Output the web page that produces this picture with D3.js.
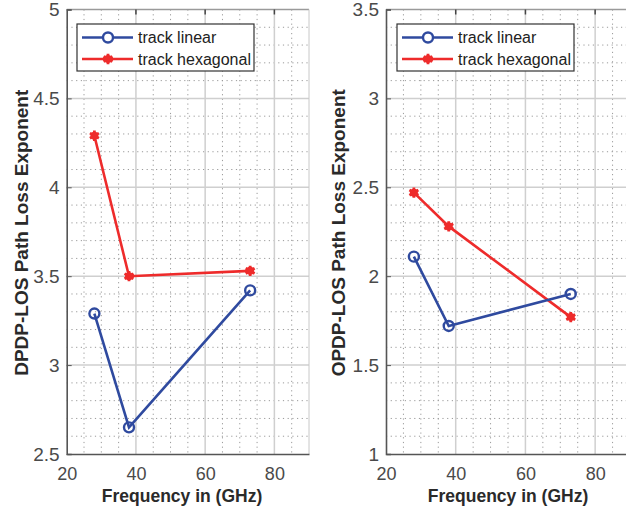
<!DOCTYPE html>
<html>
<head>
<meta charset="utf-8">
<script src="https://cdn.jsdelivr.net/npm/d3@7"></script>
<style>
  html, body { margin: 0; padding: 0; background: #fff; }
  svg { display: block; font-family: "Liberation Sans", Arial, sans-serif; }
</style>
</head>
<body>
<svg id="chart" width="626" height="517"></svg>
<script>
// Measurement frequencies (GHz)
const frequencies = [28, 38, 73];

// Path loss exponents, DPDP-LOS panel
const dpdpLinear = [3.29, 2.65, 3.42];
const dpdpHexagonal = [4.29, 3.50, 3.53];

// Path loss exponents, OPDP-LOS panel
const opdpLinear = [2.11, 1.72, 1.90];
const opdpHexagonal = [2.47, 2.28, 1.77];

// Axis ticks
const xTicks = [20, 40, 60, 80];
const dpdpTicks = [2.5, 3, 3.5, 4, 4.5, 5];
const opdpTicks = [1, 1.5, 2, 2.5, 3, 3.5];

const seriesNames = ["track linear", "track hexagonal"];
const BLUE = "#2f4a9f";
const RED = "#ee2b2b";

const svg = d3.select("#chart");

function panel(opts) {
  const { left, right, top, bottom, yDomain, yTicks, linear, hexagonal, yLabel, yLabelX, xLabelX, legendX, legendW } = opts;
  const x = d3.scaleLinear().domain([20, 90]).range([left, right]);
  const y = d3.scaleLinear().domain(yDomain).range([bottom, top]);
  const g = svg.append("g");

  // minor dotted grid
  const minorX = d3.range(25, 90, 5).filter(v => v % 20 !== 0);
  const minorY = d3.range(Math.round(yDomain[0] * 10) + 1, Math.round(yDomain[1] * 10)).map(v => v / 10)
    .filter(v => Math.abs(v * 2 - Math.round(v * 2)) > 1e-6);
  g.selectAll(".mx").data(minorX).join("line")
    .attr("x1", d => x(d)).attr("x2", d => x(d)).attr("y1", top).attr("y2", bottom)
    .attr("stroke", "#9a9a9a").attr("stroke-width", 1).attr("stroke-dasharray", "1.2,3.5");
  g.selectAll(".my").data(minorY).join("line")
    .attr("x1", left).attr("x2", right).attr("y1", d => y(d)).attr("y2", d => y(d))
    .attr("stroke", "#9a9a9a").attr("stroke-width", 1).attr("stroke-dasharray", "1.2,3.5");

  // major solid grid
  g.selectAll(".gx").data(xTicks.slice(1)).join("line")
    .attr("x1", d => x(d)).attr("x2", d => x(d)).attr("y1", top).attr("y2", bottom)
    .attr("stroke", "#cfcfcf").attr("stroke-width", 1.5);
  g.selectAll(".gy").data(yTicks.slice(1, -1)).join("line")
    .attr("x1", left).attr("x2", right).attr("y1", d => y(d)).attr("y2", d => y(d))
    .attr("stroke", "#cfcfcf").attr("stroke-width", 1.5);

  // axes frame
  g.append("line").attr("x1", left).attr("x2", right).attr("y1", top).attr("y2", top)
    .attr("stroke", "#9a9a9a").attr("stroke-width", 1.5);
  g.append("line").attr("x1", right).attr("x2", right).attr("y1", top).attr("y2", bottom)
    .attr("stroke", "#c8c8c8").attr("stroke-width", 1);

  const xAxis = d3.axisBottom(x).tickValues(xTicks).tickSize(0).tickPadding(13).tickFormat(d3.format("d"));
  const xa = g.append("g").attr("transform", `translate(0,${bottom})`).call(xAxis);
  xa.select(".domain").attr("stroke", "#555").attr("stroke-width", 1.6);
  xa.selectAll("text").attr("font-size", 18).attr("fill", "#4a4a4a");

  const yAxis = d3.axisLeft(y).tickValues(yTicks).tickSize(-5).tickPadding(7).tickFormat(d3.format("~g"));
  const ya = g.append("g").attr("transform", `translate(${left},0)`).call(yAxis);
  ya.select(".domain").attr("stroke", "#555").attr("stroke-width", 1.6);
  ya.selectAll(".tick line").attr("stroke", "#555");
  ya.selectAll("text").attr("font-size", 19).attr("fill", "#4a4a4a").attr("x", -7);

  // top ticks
  g.selectAll(".tt").data(xTicks.slice(1)).join("line")
    .attr("x1", d => x(d)).attr("x2", d => x(d)).attr("y1", top).attr("y2", top + 5)
    .attr("stroke", "#444").attr("stroke-width", 1.5);

  // axis titles
  g.append("text").attr("x", xLabelX).attr("y", bottom + 48)
    .attr("text-anchor", "middle").attr("font-size", 17.5).attr("font-weight", "bold")
    .attr("fill", "#2a2a2a").text("Frequency in (GHz)");
  g.append("text").attr("transform", `translate(${yLabelX},${(top + bottom) / 2 + 1}) rotate(-90)`)
    .attr("text-anchor", "middle").attr("font-size", 19).attr("font-weight", "bold")
    .attr("fill", "#2a2a2a").text(yLabel);

  // series
  const line = d3.line().x(d => x(d[0])).y(d => y(d[1]));
  const linPts = frequencies.map((f, i) => [f, linear[i]]);
  const hexPts = frequencies.map((f, i) => [f, hexagonal[i]]);

  g.append("path").datum(hexPts).attr("d", line).attr("fill", "none")
    .attr("stroke", RED).attr("stroke-width", 2.6);
  g.append("path").datum(linPts).attr("d", line).attr("fill", "none")
    .attr("stroke", BLUE).attr("stroke-width", 2.6);

  const star = d3.symbol().type(d3.symbolAsterisk).size(75);
  function drawStar(sel, cx, cy) {
    sel.append("path").attr("d", star()).attr("transform", `translate(${cx},${cy})`)
      .attr("fill", "none").attr("stroke", RED).attr("stroke-width", 2.8);
    sel.append("circle").attr("cx", cx).attr("cy", cy).attr("r", 4).attr("fill", RED);
  }
  hexPts.forEach(p => drawStar(g, x(p[0]), y(p[1])));
  g.selectAll(".lm").data(linPts).join("circle")
    .attr("cx", d => x(d[0])).attr("cy", d => y(d[1])).attr("r", 5)
    .attr("fill", "none").attr("stroke", BLUE).attr("stroke-width", 2.4);

  // legend
  const lg = g.append("g").attr("transform", `translate(${legendX},24)`);
  lg.append("rect").attr("width", legendW).attr("height", 47)
    .attr("fill", "#fff").attr("stroke", "#333").attr("stroke-width", 1.2);
  [BLUE, RED].forEach((c, i) => {
    const cy = 13.5 + i * 21.5;
    lg.append("line").attr("x1", 5).attr("x2", 56).attr("y1", cy).attr("y2", cy)
      .attr("stroke", c).attr("stroke-width", 2.6);
    if (i === 0) {
      lg.append("circle").attr("cx", 31).attr("cy", cy).attr("r", 5)
        .attr("fill", "#fff").attr("stroke", BLUE).attr("stroke-width", 2.4);
    } else {
      drawStar(lg, 31, cy);
    }
    lg.append("text").attr("x", 61).attr("y", cy + 5.5).attr("font-size", 16)
      .attr("fill", "#222").text(seriesNames[i]);
  });
}

panel({
  left: 66.7, right: 309, top: 9.5, bottom: 454,
  yDomain: [2.5, 5], yTicks: dpdpTicks,
  linear: dpdpLinear, hexagonal: dpdpHexagonal,
  yLabel: "DPDP-LOS Path Loss Exponent", yLabelX: 28, xLabelX: 182,
  legendX: 77, legendW: 177
});

panel({
  left: 386, right: 630, top: 9.5, bottom: 454,
  yDomain: [1, 3.5], yTicks: opdpTicks,
  linear: opdpLinear, hexagonal: opdpHexagonal,
  yLabel: "OPDP-LOS Path Loss Exponent", yLabelX: 345, xLabelX: 508,
  legendX: 397, legendW: 177
});
</script>
</body>
</html>
